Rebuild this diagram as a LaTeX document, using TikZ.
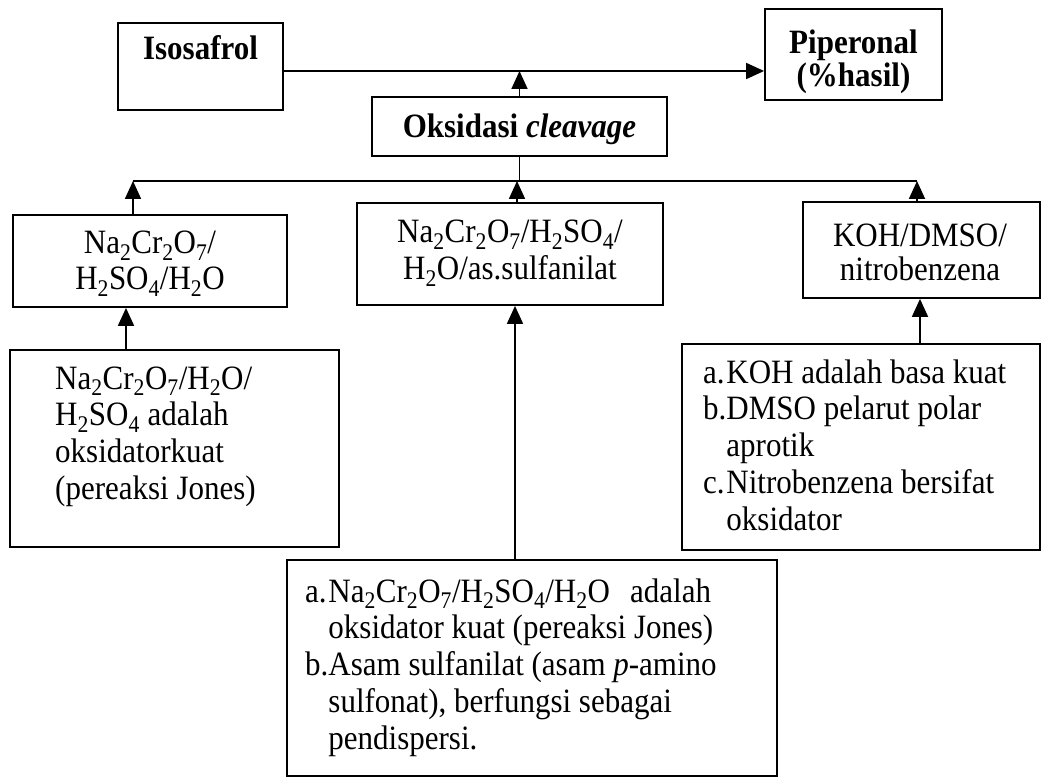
\documentclass[tikz,border=0pt]{standalone}
\usepackage{graphicx}
\usepackage{fontspec}
\setmainfont{Liberation Serif}
\usetikzlibrary{arrows.meta}
\newcommand{\lowsub}[1]{\textsubscript{#1}}
% the printed type is set slightly taller than it is wide
\newcommand{\vstretch}[1]{\scalebox{1}[1.1]{#1}}
\begin{document}
\begin{tikzpicture}[x=1pt,y=-1pt,
  box/.style={draw, line width=1.8pt, rectangle, inner sep=0pt},
  conn/.style={line width=1.8pt},
  arr/.style={conn, -{Triangle[length=18pt,width=16pt]}},
  ctext/.style={inner sep=0pt, anchor=base, font=\fontsize{31}{#1}\selectfont},
  ctext/.default=33,
  title/.style={inner sep=0pt, anchor=base, font=\bfseries\fontsize{31}{#1}\selectfont},
  title/.default=27.5,
  notes/.style={inner sep=0pt, anchor=base west, font=\fontsize{31}{33.6}\selectfont},
]
\useasboundingbox[fill=white] (0,0) rectangle (1042,778);

% top row: start material and product
\node[box, minimum width=165, minimum height=87] (iso) at (200.5,66.5) {};
\node[title] (isoT) at (200.5,60) {\vstretch{Isosafrol}};
\node[box, minimum width=177, minimum height=91] (pip) at (853.5,54.5) {};
\node[title] (pipT) at (853.5,54) {\vstretch{\begin{tabular}[t]{@{}c@{}}Piperonal\\(\%hasil)\end{tabular}}};

% reaction type
\node[box, minimum width=295, minimum height=59] (oks) at (519.5,126.5) {};
\node[title] (oksT) at (519.5,138) {\vstretch{Oksidasi \textit{cleavage}}};

% reagent systems
\node[box, minimum width=274, minimum height=92] (b1) at (150,261) {};
\node[ctext=32.7] (b1T) at (150,254) {\vstretch{\begin{tabular}[t]{@{}c@{}}
  Na\lowsub{2}Cr\lowsub{2}O\lowsub{7}/\\H\lowsub{2}SO\lowsub{4}/H\lowsub{2}O\end{tabular}}};
\node[box, minimum width=306, minimum height=102] (b2) at (510,254) {};
\node[ctext=33.6] (b2T) at (510,243) {\vstretch{\begin{tabular}[t]{@{}c@{}}
  Na\lowsub{2}Cr\lowsub{2}O\lowsub{7}/H\lowsub{2}SO\lowsub{4}/\\H\lowsub{2}O/as.sulfanilat\end{tabular}}};
\node[box, minimum width=237, minimum height=96] (b3) at (921.5,250) {};
\node[ctext=28.5] (b3T) at (920,247) {\vstretch{\begin{tabular}[t]{@{}c@{}}
  KOH/DMSO/\\nitrobenzena\end{tabular}}};

% explanation boxes
\node[box, minimum width=329, minimum height=197] (b4) at (174.5,448.5) {};
\node[notes] (b4T) at (55,389) {\vstretch{\begin{tabular}[t]{@{}l@{}}
  Na\lowsub{2}Cr\lowsub{2}O\lowsub{7}/H\lowsub{2}O/\\
  H\lowsub{2}SO\lowsub{4} adalah\\
  oksidatorkuat\\
  (pereaksi Jones)\end{tabular}}};

\node[box, minimum width=358, minimum height=206] (b5) at (861,447) {};
\node[notes] (b5T) at (703,383) {\vstretch{\begin{tabular}[t]{@{}l@{}l@{}}
  a.&KOH adalah basa kuat\\
  b.&DMSO pelarut polar\\
    &aprotik\\
  c.&Nitrobenzena bersifat\\
    &oksidator\end{tabular}}};

\node[box, minimum width=490, minimum height=216] (b6) at (532,668) {};
\node[notes] (b6T) at (305,602) {\vstretch{\begin{tabular}[t]{@{}l@{}l@{}}
  a.&Na\lowsub{2}Cr\lowsub{2}O\lowsub{7}/H\lowsub{2}SO\lowsub{4}/H\lowsub{2}O\hspace{0.4em} adalah\\
    &oksidator kuat (pereaksi Jones)\\
  b.&Asam sulfanilat (asam \textit{p}-amino\\
    &sulfonat), berfungsi sebagai\\
    &pendispersi.\end{tabular}}};

% junction points
\coordinate (m)  at (519.5,71);
\coordinate (jl) at (133,181);
\coordinate (jm) at (519.5,181);
\coordinate (j2) at (517,181);
\coordinate (jr) at (917,181);
\coordinate (a4) at (126,0);
\coordinate (a5) at (920,0);
\coordinate (a6) at (515,0);

% connectors
\draw[arr] (iso.east |- m) -- (pip.west |- m);
\draw[arr] (oks.north) -- (m);
\draw[conn] (oks.south) -- (jm);
\draw[conn] (jl) -- (jr);
\draw[arr] (b1.north -| jl) -- (jl);
\draw[arr] (b2.north -| j2) -- (j2);
\draw[arr] (b3.north -| jr) -- (jr);
\draw[arr] (b4.north -| a4) -- (b1.south -| a4);
\draw[arr] (b5.north -| a5) -- (b3.south -| a5);
\draw[arr] (b6.north -| a6) -- (b2.south -| a6);
\end{tikzpicture}
\end{document}
